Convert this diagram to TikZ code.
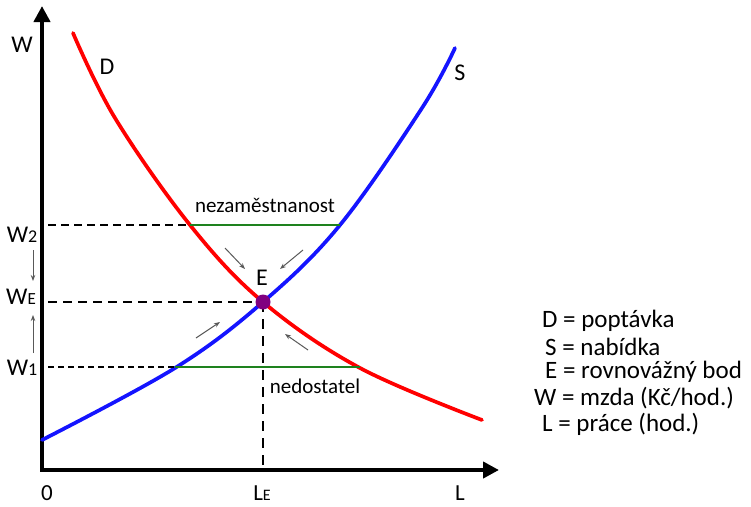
\documentclass[tikz,border=0pt]{standalone}
\usepackage{fontspec}
\setmainfont{Carlito}
\usetikzlibrary{arrows.meta}
\definecolor{dred}{RGB}{255,0,0}
\definecolor{sblue}{RGB}{20,20,255}
\definecolor{gline}{RGB}{30,130,30}
\definecolor{eqpur}{RGB}{128,0,128}
\begin{document}
\begin{tikzpicture}[x=1pt,y=-1pt,
  axis/.style={line width=4pt,{Triangle[length=16pt,width=16pt]}-{Triangle[length=16pt,width=16pt]}},
  curve/.style={line width=3.7pt, line cap=round},
  gap/.style={gline, line width=2.2pt},
  guide/.style={line width=2.5pt, dash pattern=on 8pt off 5pt},
  hint/.style={gray!70!black, line width=1pt, -{Stealth[length=6pt,width=4.5pt]}},
  lbl/.style={font=\fontsize{21}{25}\selectfont, inner sep=0pt},
  big/.style={font=\fontsize{24}{28}\selectfont, inner sep=0pt},
  bot/.style={font=\fontsize{23}{26}\selectfont, inner sep=0pt, anchor=base},
  leg/.style={font=\fontsize{25}{29}\selectfont, inner sep=0pt, anchor=west}]
\useasboundingbox (0,0) rectangle (751,506);
% axes
\coordinate (ytop) at (42,6);
\coordinate (xend) at (499,470);
\draw[axis] (ytop) |- (xend);
% curves
\draw[curve, dred] plot[smooth, tension=0.6] coordinates {(73,33) (115,118) (190,225) (263,302) (360,368) (482,420)};
\draw[curve, sblue] plot[smooth, tension=0.6] coordinates {(42,440) (175,368) (263,302) (340,225) (422,108) (455,48)};
% key coordinates
\coordinate (d2) at (190,225);
\coordinate (s2) at (340,225);
\coordinate (s1) at (175,367);
\coordinate (d1) at (360,367);
\coordinate (a2) at (48,225);
\coordinate (aE) at (48,302);
\coordinate (a1) at (48,367);
\coordinate (bE) at (263,470);
% dashed guides
\draw[guide] (a2) -- (d2);
\draw[guide, line width=2.8pt, dash pattern=on 9pt off 6pt] (aE) -- (263,302);
\draw[guide, line width=2pt, dash pattern=on 6pt off 4pt] (a1) -- (s1);
\draw[guide, line width=2.8pt, dash pattern=on 10pt off 7pt] (263,302) -- (bE);
% green gaps
\draw[gap] (d2) -- (s2);
\draw[gap] (s1) -- (d1);
% equilibrium
\node[circle, fill=eqpur, minimum size=15pt, inner sep=0pt] (E) at (263,302) {};
% hint arrows
\coordinate (h1a) at (225,248); \coordinate (h1b) at (245,269);
\coordinate (h2a) at (303,250); \coordinate (h2b) at (280,269);
\coordinate (h3a) at (196,338); \coordinate (h3b) at (220,322);
\coordinate (h4a) at (308,350); \coordinate (h4b) at (285,334);
\draw[hint] (h1a) -- (h1b);
\draw[hint] (h2a) -- (h2b);
\draw[hint] (h3a) -- (h3b);
\draw[hint] (h4a) -- (h4b);
\coordinate (v1a) at (33,250); \coordinate (v1b) at (33,281);
\coordinate (v2a) at (33,353); \coordinate (v2b) at (33,315);
\draw[hint] (v1a) -- (v1b);
\draw[hint] (v2a) -- (v2b);
% labels
\node[big] (lW) at (22,45) {W};
\node[big] (lD) at (107,67) {D};
\node[big] (lS) at (460,73) {S};
\node[big] (lE) at (262,278) {E};
\node[lbl] (lnez) at (265,205) {nezaměstnanost};
\node[lbl] (lned) at (315,386) {nedostatel};
\node[big] (lW2) at (22,235) {W{\fontsize{18}{20}\selectfont 2}};
\node[big] (lWE) at (21,297) {W{\fontsize{17}{20}\selectfont E}};
\node[big] (lW1) at (22,368) {W{\fontsize{18}{20}\selectfont 1}};
\node[bot] (l0) at (47,500) {0};
\node[bot] (lLE) at (262,500) {L{\fontsize{16}{20}\selectfont E}};
\node[bot] (lL) at (460,500) {L};
% legend
\node[leg] (k1) at (542,321) {D = poptávka};
\node[leg] (k2) at (545,347) {S = nabídka};
\node[leg] (k3) at (545,372) {E = rovnovážný bod};
\node[leg] (k4) at (534,398) {W = mzda (Kč/hod.)};
\node[leg] (k5) at (542,424) {L = práce (hod.)};
\end{tikzpicture}
\end{document}
